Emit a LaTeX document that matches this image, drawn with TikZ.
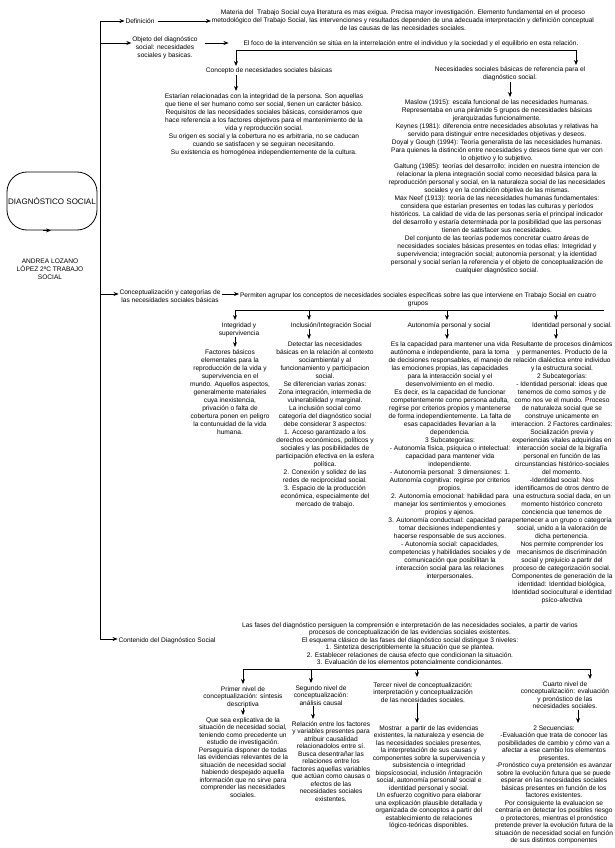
\documentclass[tikz,border=0pt]{standalone}
\usepackage{fontspec}
\setmainfont{Liberation Sans}
\usetikzlibrary{arrows.meta}
\newcommand\fs{\fontsize{6.6}{8}\selectfont}
\newcommand\fsb{\fontsize{6.6}{7.5}\selectfont}
\newcommand\fl{\rule{0pt}{6pt}}
\begin{document}
\begin{tikzpicture}[x=1pt,y=-1pt,
  txt/.style={anchor=north,inner sep=0pt,outer sep=1pt,align=center,font=\fs},
  txtb/.style={txt,font=\fsb},
  arr/.style={line width=0.8pt,-{Stealth[length=5pt,width=4pt]}},
  ln/.style={line width=0.8pt},
  mainbox/.style={draw,line width=0.8pt,rounded corners=20pt,minimum width=90pt,minimum height=58pt,inner sep=0pt,font=\fontsize{8}{9}\selectfont}]
\fill[white] (0,0) rectangle (614,848);
\useasboundingbox (0,0) rectangle (614,848);

% main node
\node[mainbox] (diag) at (52,201) {DIAGNÓSTICO SOCIAL};
\draw[arr] ([xshift=-9pt]diag.south) -- ([xshift=-1pt]diag.south);
\node[txt] (author) at (50,256) {\fl ANDREA LOZANO\\LÓPEZ 2ºC TRABAJO\\SOCIAL};

% spine
\coordinate (s1) at (100,21);
\coordinate (s2) at (100,43);
\coordinate (s3) at (100,294);
\coordinate (s4) at (100,639);
\draw[ln] (s1) -- (s4);

% Definicion
\node[txt] (def) at (140,17) {\fl Definición};
\node[txt] (defTxt) at (403,8) {\fl Materia del\ \ Trabajo Social cuya literatura es mas exigua. Precisa mayor investigación. Elemento fundamental en el proceso\\metodológico del Trabajo Social, las intervenciones y resultados dependen de una adecuada interpretación y definición conceptual\\de las causas de las necesidades sociales.};
\draw[arr] (s1) -- (s1 -| def.west);
\draw[arr] ([xshift=3pt]s1 -| def.east) -- (s1 -| defTxt.west);

% Objeto
\node[txt] (obj) at (165,35) {\fl Objeto del diagnóstico\\social: necesidades\\sociales y basicas.};
\node[txt] (foco) at (411,39) {\fl El foco de la intervención se sitúa en la interrelación entre el individuo y la sociedad y el equilibrio en esta relación.};
\draw[arr] (s2) -- (s2 -| obj.west);
\draw[arr] ([xshift=6pt]s2 -| obj.east) -- ([xshift=-14pt]s2 -| foco.west);

\coordinate (b1a) at (236,50);
\coordinate (b1b) at (576,50);
\draw[ln] (b1a) -- (b1b);

\node[txt] (concepto) at (269,66) {\fl Concepto de necesidades sociales básicas};
\node[txt] (necRef) at (510,65) {\fl Necesidades sociales básicas de referencia para el\\diagnóstico social.};
\draw[arr] (b1a) -- (b1a |- concepto.north);
\draw[arr] (b1b) -- (b1b |- necRef.north);

\node[txt] (estarian) at (264,91) {\fl Estarían relacionadas con la integridad de la persona. Son aquellas\\que tiene el ser humano como ser social, tienen un carácter básico.\\Requisitos de las necesidades sociales básicas, consideramos que\\hace referencia a los factores objetivos para el mantenimiento de la\\vida y reproducción social.\\Su origen es social y la cobertura no es arbitraria, no se caducan\\cuando se satisfacen y se seguiran necesitando.\\Su existencia es homogénea independientemente de la cultura.};
\draw[arr] (b1a |- concepto.south) -- (b1a |- estarian.north);

\node[txt] (maslow) at (497,97) {\fl Maslow (1915): escala funcional de las necesidades humanas.\\Representaba en una pirámide 5 grupos de necesidades básicas\\jerarquizadas funcionalmente.\\Keynes (1981): diferencia entre necesidades absolutas y relativas ha\\servido para distinguir entre necesidades objetivas y deseos.\\Doyal y Gough (1994): Teoría generalista de las necesidades humanas.\\Para quienes la distinción entre necesidades y deseos tiene que ver con\\lo objetivo y lo subjetivo.\\Galtung (1985): teorías del desarrollo: inciden en nuestra intencion de\\relacionar la plena integración social como necesidad básica para la\\reproducción personal y social, en la naturaleza social de las necesidades\\sociales y en la condición objetiva de las mismas.\\Max Neef (1913): teoría de las necesidades humanas fundamentales:\\considera que estarían presentes en todas las culturas y períodos\\históricos. La calidad de vida de las personas sería el principal indicador\\del desarrollo y estaría determinada por la posibilidad que las personas\\tienen de satisfacer sus necesidades.\\Del conjunto de las teorías podemos concretar cuatro áreas de\\necesidades sociales básicas presentes en todas ellas: Integridad y\\supervivencia; integración social; autonomía personal; y la identidad\\personal y social serían la referencia y el objeto de conceptualización de\\cualquier diagnóstico social.};
\draw[arr] (necRef.south) -- (necRef.south |- maslow.north);

% Conceptualizacion
\node[txt] (concep) at (170,287) {\fl Conceptualización y categorías de\\las necesidades sociales básicas};
\node[txt] (permiten) at (418,290) {\fl Permiten agrupar los conceptos de necesidades sociales específicas sobre las que interviene en Trabajo Social en cuatro\\grupos};
\draw[arr] (s3) -- (s3 -| concep.west);
\draw[arr] ([xshift=1pt]s3 -| concep.east) -- (s3 -| permiten.west);

\coordinate (d1) at (235,310);
\coordinate (d2) at (309,310);
\coordinate (d3) at (447,310);
\coordinate (d4) at (556,310);
\coordinate (d5) at (604,310);
\draw[ln] (d1) -- (d5);

\node[txt] (integT) at (239,320) {\fl Integridad y\\supervivencia};
\node[txt] (inclusT) at (331,320) {\fl Inclusión/Integración Social};
\node[txt] (autonT) at (449,320) {\fl Autonomía personal y social};
\node[txt] (identT) at (572,320) {\fl Identidad personal y social.};
\draw[arr] (d1) -- (d1 |- integT.north);
\draw[arr] (d2) -- (d2 |- inclusT.north);
\draw[arr] (d3) -- (d3 |- autonT.north);
\draw[arr] (d4) -- (d4 |- identT.north);

\node[txt] (integB) at (230,347) {\fl Factores básicos\\elementales para la\\reproducción de la vida y\\supervivencia en el\\mundo. Aquellos aspectos,\\generalmente materiales\\cuya inexistencia,\\privación o falta de\\cobertura ponen en peligro\\la contunuidad de la vida\\humana.};
\node[txt] (inclusB) at (325,339) {\fl Detectar las necesidades\\básicas en la relación al contexto\\sociambiental y al\\funcionamiento y participacion\\social.\\Se diferencian varias zonas:\\Zona integración, intermedia de\\vulnerabilidad y marginal.\\La inclusión social como\\categoría del diagnóstico social\\debe considerar 3 aspectos:\\1. Acceso garantizado a los\\derechos económicos, políticos y\\sociales y las posibilidades de\\participación efectiva en la esfera\\política.\\2. Conexión y solidez de las\\redes de reciprocidad social.\\3. Espacio de la producción\\económica, especialmente del\\mercado de trabajo.};
\node[txt] (autonB) at (450,339) {\fl Es la capacidad para mantener una vida\\autónoma e independiente, para la toma\\de decisiones responsables, el manejo de\\las emociones propias, las capacidades\\para la interacción social y el\\desenvolvimiento en el medio.\\Es decir, es la capacidad de funcionar\\competentemente como persona adulta,\\regirse por criterios propios y mantenerse\\de forma independientemente. La falta de\\esas capacidades llevarían a la\\dependencia.\\3 Subcategorías:\\- Autonomía física, psíquica o intelectual:\\capacidad para mantener vida\\independiente.\\- Autonomía personal: 3 dimensiones: 1.\\Autonomía cognitiva: regirse por criterios\\propios.\\2. Autonomía emocional: habilidad para\\manejar los sentimientos y emociones\\propios y ajenos.\\3. Autonomía conductual: capacidad para\\tomar decisiones independientes y\\hacerse responsable de sus acciones.\\- Autonomía social: capacidades,\\competencias y habilidades sociales y de\\comunicación que posibilitan la\\interacción social para las relaciones\\interpersonales.};
\node[txt] (identB) at (562,339) {\fl Resultante de procesos dinámicos\\y permanentes. Producto de la\\relación dialéctica entre individuo\\y la estructura social.\\2 Subcategorías:\\- Identidad personal: ideas que\\tenemos de como somos y de\\como nos ve el mundo. Proceso\\de naturaleza social que se\\construye unicamente en\\interaccion. 2 Factores cardinales:\\Socialización previa y\\experiencias vitales adquiridas en\\interacción social de la bigrafía\\personal en función de las\\circunstancias histórico-sociales\\del momento.\\-Identidad social: Nos\\identificamos de otros dentro de\\una estructura social dada, en un\\momento histórico concreto\\conciencia que tenemos de\\pertenecer a un grupo o categoría\\social, unido a la valoración de\\dicha pertenencia.\\Nos permite comprender los\\mecanismos de discriminación\\social y prejuicio a partir del\\proceso de categorización social.\\Componentes de generación de la\\identidad: Identidad biológica,\\Identidad sociocultural e identidad\\psíco-afectiva};
\draw[arr] (d1 |- integT.south) -- (d1 |- integB.north);
\draw[arr] (d2 |- inclusT.south) -- (d2 |- inclusB.north);
\draw[arr] (d3 |- autonT.south) -- (d3 |- autonB.north);
\draw[arr] (d4 |- identT.south) -- (d4 |- identB.north);

% Contenido
\node[txt] (cont) at (167,635) {\fl Contenido del Diagnóstico Social};
\draw[arr] (s4) -- (s4 -| cont.west);
\node[txtb] (fases) at (410,620) {\fl Las fases del diagnóstico persiguen la comprensión e interpretación de las necesidades sociales, a partir de varios\\procesos de conceptualización de las evidencias sociales existentes.\\El esquema clásico de las fases del diagnóstico social distingue 3 niveles:\\1. Sintetiza descriptiblemente la situación que se plantea.\\2. Establecer relaciones de causa efecto que condicionan la situación.\\3. Evaluación de los elementos potencialmente condicionantes.};

\coordinate (e1) at (243,669);
\coordinate (e2) at (311,669);
\coordinate (e3) at (417,669);
\coordinate (e4) at (590,669);
\draw[ln] (e1) -- (e4);

\node[txtb] (primerT) at (243,684) {\fl Primer nivel de\\conceptualización: síntesis\\descriptiva};
\node[txtb] (segT) at (321,683) {\fl Segundo nivel de\\conceptualización:\\análisis causal};
\node[txtb] (tercT) at (423,680) {\fl Tercer nivel de conceptualización:\\interpretación y conceptualización\\de las necesidades sociales.};
\node[txtb] (cuartoT) at (565,679) {\fl Cuarto nivel de\\conceptualización: evaluación\\y pronóstico de las\\necesidades sociales.};
\draw[arr] (e1) -- (e1 |- primerT.north);
\draw[arr] (e2) -- (e2 |- segT.north);
\draw[arr] (e3) -- ([yshift=3pt]e3 |- tercT.north);
\draw[arr] (e4) -- (e4 |- cuartoT.north);

\node[txtb] (primerB) at (243,715) {\fl Que sea explicativa de la\\situación de necesidad social,\\teniendo como precedente un\\estudio de investigación.\\Perseguiría disponer de todas\\las evidencias relevantes de la\\situación de necesidad social\\habiendo despejado aquella\\información que no sirve para\\comprender las necesidades\\sociales.};
\node[txtb] (segB) at (331,719) {\fl Relación entre los factores\\y variables presentes para\\atribuir causalidad\\relacionadolos entre sí.\\Busca desentrañar las\\relaciones entre los\\factores aquellas variables\\que actúan como causas o\\efectos de las\\necesidades sociales\\existentes.};
\node[txtb] (tercB) at (429,723) {\fl Mostrar\ \ a partir de las evidencias\\existentes, la naturaleza y esencia de\\las necesidades sociales presentes,\\la interpretación de sus causas y\\componentes sobre la supervivencia y\\subsistencia o integridad\\biopsícosocial, inclusión /integración\\social, autonomía personal/ social e\\identidad personal y social.\\Un esfuerzo cognitivo para elaborar\\una explicación plausible detallada y\\organizada de conceptos a partir del\\establecimiento de relaciones\\lógico-teóricas disponibles.};
\node[txtb] (cuartoB) at (554,723) {\fl 2 Secuencias:\\-Evaluación que trata de conocer las\\posibilidades de cambio y cómo van a\\afectar a ese cambio los elementos\\presentes.\\-Pronóstico cuya pretensión es avanzar\\sobre la evolución futura que se puede\\esperar en las necesidades sociales\\básicas presentes en función de los\\factores existentes.\\Por consiguiente la evaluacion se\\centraría en detectar los posibles riesgo\\o protectores, mientras el pronóstico\\pretende prever la evolución futura de la\\situación de necesidad social en función\\de sus distintos componentes};
\draw[arr] (primerT.south) -- (primerT.south |- primerB.north);
\draw[arr] ([xshift=-8pt]segT.south) -- ([xshift=-8pt]segT.south |- segB.north);
\draw[arr] (e3 |- tercT.south) -- (e3 |- tercB.north);
\draw[arr] ([xshift=13pt]cuartoT.south) -- ([xshift=13pt]cuartoT.south |- cuartoB.north);
\end{tikzpicture}
\end{document}
